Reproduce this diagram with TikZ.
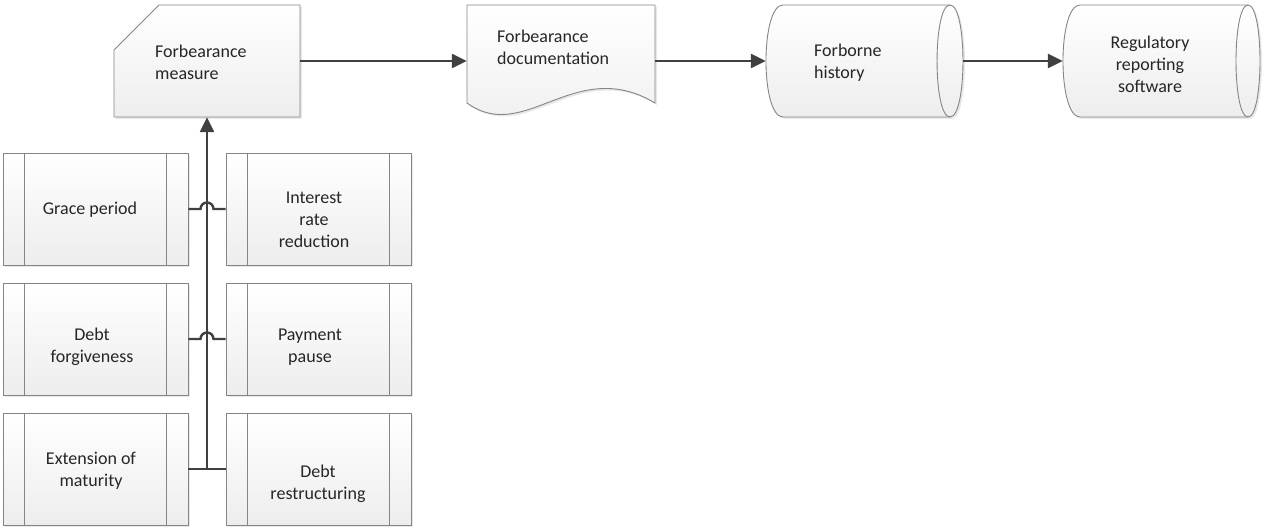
\documentclass[tikz,border=0pt]{standalone}
\usepackage{fontspec}
\setmainfont{Carlito}
\usetikzlibrary{arrows.meta,shadows}
\definecolor{edgec}{HTML}{858585}
\definecolor{connc}{HTML}{404040}
\definecolor{txtc}{HTML}{262626}
\begin{document}
\begin{tikzpicture}[x=1pt,y=-1pt,
  shp/.style={draw=edgec, line width=0.9pt, top color=white, bottom color=black!7,
    drop shadow={shadow xshift=2pt, shadow yshift=-2pt, opacity=0.3, fill=black!30}},
  pbox/.style={shp, rectangle, minimum width=185pt, minimum height=112pt, inner sep=0pt},
  hold/.style={rectangle, inner sep=0pt, minimum height=112pt},
  bar/.style={draw=edgec, line width=0.9pt},
  conn/.style={draw=connc, line width=2.4pt},
  arr/.style={conn, -{Triangle[length=15pt,width=14pt]}},
  txt/.style={inner sep=0pt, text=txtc, font=\fontsize{18pt}{22pt}\selectfont}]
\useasboundingbox (0,0) rectangle (1266,529);

% top row shapes
\path[shp] (114,50) -- (159,5) -- (300,5) -- (300,117) -- (114,117) -- cycle;
\node[hold, minimum width=186pt] (fm) at (207,61) {};

\path[shp] (467,5) -- (655,5) -- (655,103) .. controls (575,55) and (525,145) .. (467,103) -- cycle;
\node[hold, minimum width=188pt] (fd) at (561,61) {};

\path[shp] (783,5) -- (950,5) .. controls (967.3,5) and (967.3,117) .. (950,117) -- (783,117) .. controls (760.3,117) and (760.3,5) .. (783,5) -- cycle;
\draw[bar] (950,5) .. controls (932.7,5) and (932.7,117) .. (950,117);
\node[hold, minimum width=197pt] (fh) at (864.5,61) {};

\path[shp] (1080,5) -- (1248,5) .. controls (1264,5) and (1264,117) .. (1248,117) -- (1080,117) .. controls (1057.3,117) and (1057.3,5) .. (1080,5) -- cycle;
\draw[bar] (1248,5) .. controls (1232,5) and (1232,117) .. (1248,117);
\node[hold, minimum width=197pt] (rr) at (1161.5,61) {};

% left process boxes
\node[pbox] (gp) at (95.5,209) {};
\node[pbox] (ir) at (318.5,209) {};
\node[pbox] (df) at (95.5,339) {};
\node[pbox] (pp) at (318.5,339) {};
\node[pbox] (em) at (95.5,469) {};
\node[pbox] (dr) at (318.5,469) {};
\foreach \n in {gp,ir,df,pp,em,dr}{
  \draw[bar] ([xshift=22pt]\n.north west) -- ([xshift=22pt]\n.south west)
             ([xshift=-22pt]\n.north east) -- ([xshift=-22pt]\n.south east);
}

% texts
\node[txt, anchor=west, align=left] (fmT) at (155,62.75) {Forbearance\\measure};
\node[txt, anchor=west, align=left] (fdT) at (497,47.75) {Forbearance\\documentation};
\node[txt, anchor=west, align=left] (fhT) at (814,62.3) {Forborne\\history};
\node[txt, align=center] (rrT) at (1150,64.75) {Regulatory\\reporting\\software};
\node[txt, align=center] (gpT) at (90,209.75) {Grace period};
\node[txt, align=center] (irT) at (314,219.75) {Interest\\rate\\reduction};
\node[txt, align=center] (dfT) at (92,346.75) {Debt\\forgiveness};
\node[txt, align=center] (ppT) at (310,346.75) {Payment\\pause};
\node[txt, align=center] (emT) at (91,470.75) {Extension of\\maturity};
\node[txt, align=center] (drT) at (318,483.75) {Debt\\restructuring};

% connectors
\draw[arr] (fm.east) -- (fd.west);
\draw[arr] (fd.east) -- (fh.west);
\draw[arr] (fh.east) -- (rr.west);
\draw[conn] (em.east) -- (dr.west);
\coordinate (j) at (em.east -| fm.south);
\draw[arr] (j) -- (fm.south);
\draw[conn] (gp.east) -- ([xshift=-6.5pt]gp.east -| fm.south) arc[start angle=180, end angle=0, radius=6.5pt] -- (ir.west);
\draw[conn] (df.east) -- ([xshift=-6.5pt]df.east -| fm.south) arc[start angle=180, end angle=0, radius=6.5pt] -- (pp.west);
\end{tikzpicture}
\end{document}
